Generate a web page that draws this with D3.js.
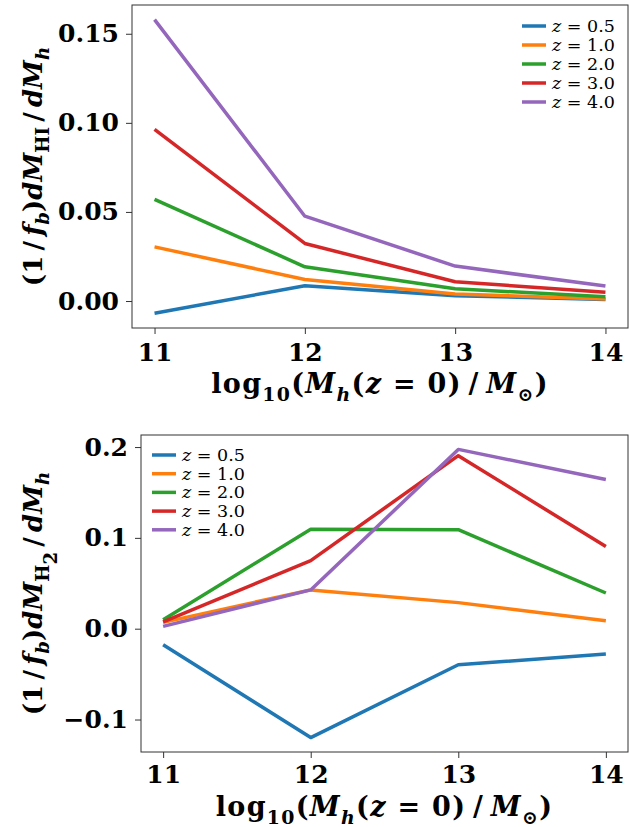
<!DOCTYPE html>
<html>
<head>
<meta charset="utf-8">
<script src="https://cdn.jsdelivr.net/npm/d3@7"></script>
<style>
  body { margin: 0; background: #fff; }
  svg { display: block; }
</style>
</head>
<body>
<div id="chart"></div>
<script>
// Halo mass bins and redshifts
const masses = [11, 12, 13, 14];
const redshifts = ["0.5", "1.0", "2.0", "3.0", "4.0"];
const colors = ["#1f77b4", "#ff7f0e", "#2ca02c", "#d62728", "#9467bd"];

// (1/f_b) dM_HI/dM_h, one row per redshift
const hiValues = [
  [-0.0069, 0.0086, 0.0030, 0.0008],
  [0.0304, 0.0121, 0.0039, 0.0012],
  [0.0571, 0.0192, 0.0069, 0.0024],
  [0.0963, 0.0323, 0.0108, 0.0049],
  [0.1579, 0.0476, 0.0196, 0.0084]
];

// (1/f_b) dM_H2/dM_h, one row per redshift
const h2Values = [
  [-0.0176, -0.1199, -0.0397, -0.0279],
  [0.0070, 0.0427, 0.0287, 0.0088],
  [0.0099, 0.1095, 0.1090, 0.0393],
  [0.0074, 0.0750, 0.1905, 0.0904],
  [0.0026, 0.0427, 0.1974, 0.1643]
];

const xTicks = [11, 12, 13, 14];
const hiTicks = [0, 0.05, 0.10, 0.15];
const h2Ticks = [-0.1, 0, 0.1, 0.2];

const width = 629;
const height = 827;
const serif = "DejaVu Serif";
const thin = "\u2009";

const svg = d3
  .select("#chart")
  .append("svg")
  .attr("width", width)
  .attr("height", height);

// matplotlib-like 5% margins
function padded(ext) {
  const m = (ext[1] - ext[0]) * 0.05;
  return [ext[0] - m, ext[1] + m];
}

// write a math label made of pieces: {t, i: italic, s: subscript level}
function mathText(sel, pieces, size) {
  let level = 0;
  pieces.forEach((p) => {
    const s = p.s || 0;
    const shift = (s - level) * size * 0.28;
    sel
      .append("tspan")
      .attr("dy", shift)
      .attr("font-size", s > 0 ? size * 0.7 : size)
      .attr("font-style", p.i ? "italic" : "normal")
      .text(p.t);
    level = s;
  });
}

function drawPanel(cfg) {
  const g = svg.append("g");

  const x = d3
    .scaleLinear()
    .domain(padded(d3.extent(masses)))
    .range([cfg.left, cfg.right]);

  const y = d3
    .scaleLinear()
    .domain(padded(d3.extent(cfg.values.flat())))
    .range([cfg.bottom, cfg.top]);

  // lines
  const line = d3
    .line()
    .x((d, i) => x(masses[i]))
    .y((d) => y(d));

  cfg.values.forEach((vals, k) => {
    g.append("path")
      .datum(vals)
      .attr("fill", "none")
      .attr("stroke", colors[k])
      .attr("stroke-width", 3.5)
      .attr("stroke-linejoin", "round")
      .attr("d", line);
  });

  // frame
  g.append("rect")
    .attr("x", cfg.left)
    .attr("y", cfg.top)
    .attr("width", cfg.right - cfg.left)
    .attr("height", cfg.bottom - cfg.top)
    .attr("fill", "none")
    .attr("stroke", "#333")
    .attr("stroke-width", 1);

  // axes
  const xAxis = g
    .append("g")
    .attr("transform", `translate(0, ${cfg.bottom})`)
    .call(d3.axisBottom(x).tickValues(xTicks).tickSize(6).tickPadding(cfg.xPad).tickFormat(d3.format("d")));

  const yAxis = g
    .append("g")
    .attr("transform", `translate(${cfg.left}, 0)`)
    .call(d3.axisLeft(y).tickValues(cfg.ticks).tickSize(6).tickPadding(7).tickFormat(d3.format(cfg.fmt)));

  [xAxis, yAxis].forEach((a) => {
    a.select(".domain").remove();
    a.selectAll("line").attr("stroke", "#333");
    a.selectAll("text")
      .attr("fill", "#000")
      .style("font-family", serif)
      .style("font-weight", "bold")
      .style("font-size", "25px");
  });

  // y label
  const yl = g
    .append("text")
    .attr("transform", `translate(${cfg.yLabelX}, ${(cfg.top + cfg.bottom) / 2}) rotate(-90)`)
    .attr("text-anchor", "middle")
    .attr("font-family", serif)
    .attr("font-weight", "bold");
  mathText(yl, cfg.yLabel, 26);

  // x label
  const xl = g
    .append("text")
    .attr("x", (cfg.left + cfg.right) / 2)
    .attr("y", cfg.xLabelY)
    .attr("text-anchor", "middle")
    .attr("font-family", serif)
    .attr("font-weight", "bold")
    .attr("letter-spacing", 1.3);
  mathText(
    xl,
    [
      { t: "log" },
      { t: "10", s: 1 },
      { t: "(" },
      { t: "M", i: true },
      { t: "h", i: true, s: 1 },
      { t: "(" },
      { t: "z", i: true },
      { t: " = 0)" + thin + "/" + thin },
      { t: "M", i: true },
      { t: "⊙", s: 1 },
      { t: ")" }
    ],
    27
  );

  // legend
  const leg = g.append("g");
  redshifts.forEach((z, k) => {
    const ly = cfg.legY + k * cfg.legStep;
    leg.append("line")
      .attr("x1", cfg.legX)
      .attr("x2", cfg.legX + 24)
      .attr("y1", ly)
      .attr("y2", ly)
      .attr("stroke", colors[k])
      .attr("stroke-width", 3.5);
    const t = leg.append("text")
      .attr("x", cfg.legX + 30)
      .attr("y", ly + 6)
      .attr("font-family", serif)
      .attr("font-size", 17.5);
    t.append("tspan").attr("font-style", "italic").text("z");
    t.append("tspan").text(" = " + z);
  });
}

drawPanel({
  values: hiValues,
  ticks: hiTicks,
  fmt: ".2f",
  left: 132, right: 628, top: 5, bottom: 328,
  xPad: 9,
  xLabelY: 393,
  yLabelX: 42,
  yLabel: [
    { t: "(1" + thin + "/" + thin },
    { t: "f", i: true },
    { t: "b", i: true, s: 1 },
    { t: ")" },
    { t: "dM", i: true },
    { t: "HI", s: 1 },
    { t: thin + "/" + thin },
    { t: "dM", i: true },
    { t: "h", i: true, s: 1 }
  ],
  legX: 522, legY: 26, legStep: 19
});

drawPanel({
  values: h2Values,
  ticks: h2Ticks,
  fmt: ".1f",
  left: 141, right: 628, top: 435, bottom: 752,
  xPad: 7,
  xLabelY: 816,
  yLabelX: 42,
  yLabel: [
    { t: "(1" + thin + "/" + thin },
    { t: "f", i: true },
    { t: "b", i: true, s: 1 },
    { t: ")" },
    { t: "dM", i: true },
    { t: "H", s: 1 },
    { t: "2", s: 2 },
    { t: thin + "/" + thin },
    { t: "dM", i: true },
    { t: "h", i: true, s: 1 }
  ],
  legX: 152, legY: 455, legStep: 18.7
});
</script>
</body>
</html>
